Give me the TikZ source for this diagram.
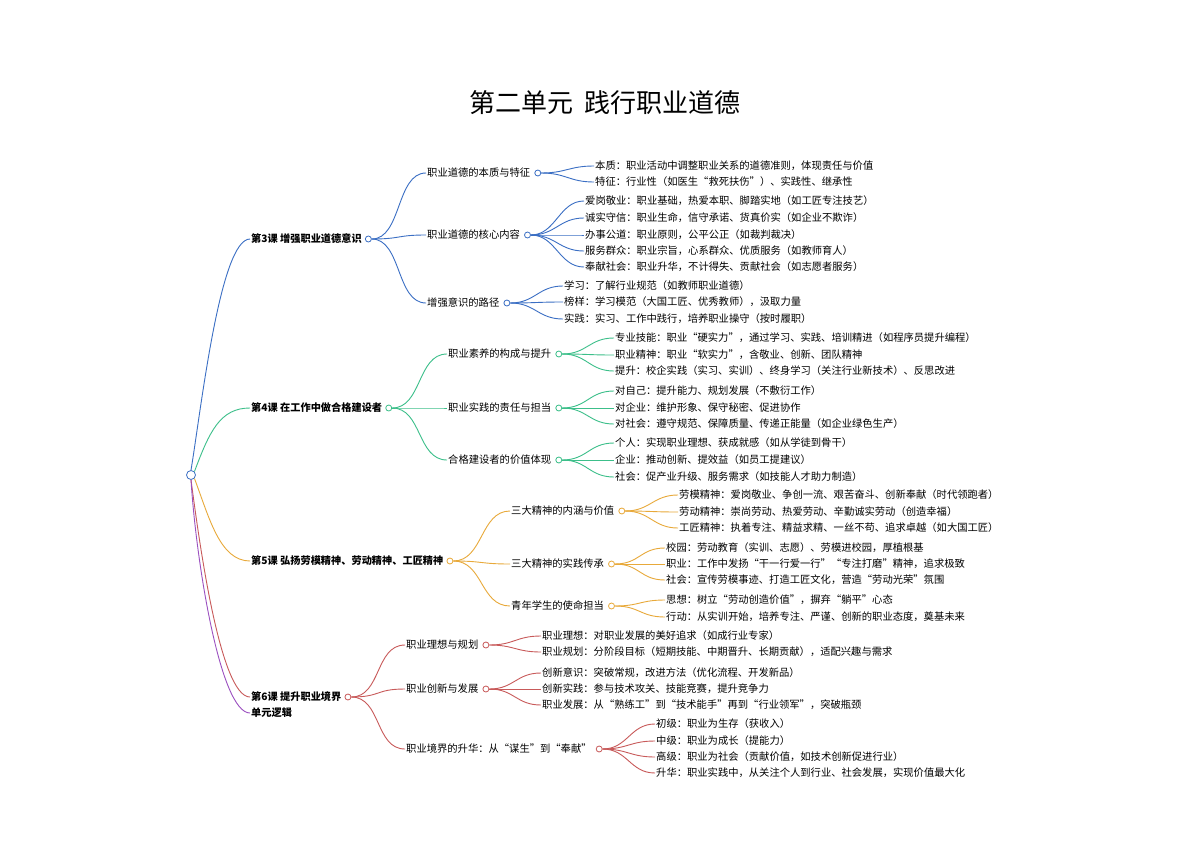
\documentclass[tikz,border=0pt]{standalone}
\usepackage{fontspec}
\setmainfont{Noto Sans CJK SC}
\usetikzlibrary{positioning}

\definecolor{cblue}{HTML}{3B6FC4}
\definecolor{cgreen}{HTML}{3CBF8A}
\definecolor{corange}{HTML}{E8A93A}
\definecolor{cred}{HTML}{C85A5A}
\definecolor{cpurple}{HTML}{9B4FC0}

\begin{document}
\begin{tikzpicture}[x=1pt,y=-1pt,font=\fontsize{10.3}{12}\selectfont]
  \tikzstyle{lesson} = [anchor=west, inner sep=1pt, font=\fontsize{10.2}{12}\selectfont\bfseries]
  \tikzstyle{topic} = [anchor=west, inner sep=1pt]
  \tikzstyle{leaf} = [anchor=west, inner sep=1pt]
  \tikzstyle{knob} = [circle, draw, fill=white, inner sep=0pt, minimum size=6pt, line width=0.8pt]
  \tikzstyle{link} = [line width=0.9pt]
  \useasboundingbox (0,0) rectangle (1200,849);
  \fill[white] (0,0) rectangle (1200,849);

  \node (title) at (605,103) {\fontsize{26}{30}\selectfont 第二单元\ \ 践行职业道德};

  \node (root) [knob, draw=cblue, minimum size=9pt] at (191,475) {};

  % lesson 3
  \node (l3) [lesson] at (250,239) {第3课 增强职业道德意识};
  \node (k3) [knob, draw=cblue, right=2pt of l3] {};
  \draw [link, cblue] (root.north) .. controls +(10,-60) and +(-30,0) .. (l3.west);
  \node (t31) [topic] at (426,173) {职业道德的本质与特征};
  \node (k31) [knob, draw=cblue, right=3pt of t31] {};
  \node (t32) [topic] at (426,235) {职业道德的核心内容};
  \node (k32) [knob, draw=cblue, right=3pt of t32] {};
  \node (t33) [topic] at (426,303) {增强意识的路径};
  \node (k33) [knob, draw=cblue, right=3pt of t33] {};
  \foreach \i in {1,2,3}
    \draw [link, cblue] (k3.east) .. controls +(30,0) and +(-30,0) .. (t3\i.west);
  \foreach \y/\t [count=\i] in {166/{本质：职业活动中调整职业关系的道德准则，体现责任与价值},
      182/{特征：行业性（如医生“救死扶伤”）、实践性、继承性}} {
    \node (k31-\i) [leaf] at (594,\y) {\t};
    \draw [link, cblue] (k31.east) .. controls +(25,0) and +(-25,0) .. (k31-\i.west);
  }
  \foreach \y/\t [count=\i] in {201/{爱岗敬业：职业基础，热爱本职、脚踏实地（如工匠专注技艺）},
      218/{诚实守信：职业生命，信守承诺、货真价实（如企业不欺诈）},
      235/{办事公道：职业原则，公平公正（如裁判裁决）},
      251/{服务群众：职业宗旨，心系群众、优质服务（如教师育人）},
      267/{奉献社会：职业升华，不计得失、贡献社会（如志愿者服务）}} {
    \node (k32-\i) [leaf] at (584,\y) {\t};
    \draw [link, cblue] (k32.east) .. controls +(25,0) and +(-25,0) .. (k32-\i.west);
  }
  \foreach \y/\t [count=\i] in {286/{学习：了解行业规范（如教师职业道德）},
      302/{榜样：学习模范（大国工匠、优秀教师），汲取力量},
      319/{实践：实习、工作中践行，培养职业操守（按时履职）}} {
    \node (k33-\i) [leaf] at (563,\y) {\t};
    \draw [link, cblue] (k33.east) .. controls +(25,0) and +(-25,0) .. (k33-\i.west);
  }

  % lesson 4
  \node (l4) [lesson] at (250,408) {第4课 在工作中做合格建设者};
  \node (k4) [knob, draw=cgreen, right=2pt of l4] {};
  \draw [link, cgreen] (root.north east) .. controls +(15,-40) and +(-30,0) .. (l4.west);
  \node (t41) [topic] at (447,354) {职业素养的构成与提升};
  \node (k41) [knob, draw=cgreen, right=3pt of t41] {};
  \node (t42) [topic] at (447,408) {职业实践的责任与担当};
  \node (k42) [knob, draw=cgreen, right=3pt of t42] {};
  \node (t43) [topic] at (447,460) {合格建设者的价值体现};
  \node (k43) [knob, draw=cgreen, right=3pt of t43] {};
  \foreach \i in {1,2,3}
    \draw [link, cgreen] (k4.east) .. controls +(30,0) and +(-30,0) .. (t4\i.west);
  \foreach \y/\t [count=\i] in {338/{专业技能：职业“硬实力”，通过学习、实践、培训精进（如程序员提升编程）},
      355/{职业精神：职业“软实力”，含敬业、创新、团队精神},
      371/{提升：校企实践（实习、实训）、终身学习（关注行业新技术）、反思改进}} {
    \node (k41-\i) [leaf] at (614,\y) {\t};
    \draw [link, cgreen] (k41.east) .. controls +(25,0) and +(-25,0) .. (k41-\i.west);
  }
  \foreach \y/\t [count=\i] in {391/{对自己：提升能力、规划发展（不敷衍工作）},
      408/{对企业：维护形象、保守秘密、促进协作},
      424/{对社会：遵守规范、保障质量、传递正能量（如企业绿色生产）}} {
    \node (k42-\i) [leaf] at (614,\y) {\t};
    \draw [link, cgreen] (k42.east) .. controls +(25,0) and +(-25,0) .. (k42-\i.west);
  }
  \foreach \y/\t [count=\i] in {443/{个人：实现职业理想、获成就感（如从学徒到骨干）},
      460/{企业：推动创新、提效益（如员工提建议）},
      477/{社会：促产业升级、服务需求（如技能人才助力制造）}} {
    \node (k43-\i) [leaf] at (614,\y) {\t};
    \draw [link, cgreen] (k43.east) .. controls +(25,0) and +(-25,0) .. (k43-\i.west);
  }

  % lesson 5
  \node (l5) [lesson] at (250,561) {第5课 弘扬劳模精神、劳动精神、工匠精神};
  \node (k5) [knob, draw=corange, right=2pt of l5] {};
  \draw [link, corange] (root.south east) .. controls +(15,40) and +(-30,0) .. (l5.west);
  \node (t51) [topic] at (510,511) {三大精神的内涵与价值};
  \node (k51) [knob, draw=corange, right=3pt of t51] {};
  \node (t52) [topic] at (510,564) {三大精神的实践传承};
  \node (k52) [knob, draw=corange, right=3pt of t52] {};
  \node (t53) [topic] at (510,606) {青年学生的使命担当};
  \node (k53) [knob, draw=corange, right=3pt of t53] {};
  \foreach \i in {1,2,3}
    \draw [link, corange] (k5.east) .. controls +(30,0) and +(-30,0) .. (t5\i.west);
  \foreach \y/\t [count=\i] in {495/{劳模精神：爱岗敬业、争创一流、艰苦奋斗、创新奉献（时代领跑者）},
      512/{劳动精神：崇尚劳动、热爱劳动、辛勤诚实劳动（创造幸福）},
      528/{工匠精神：执着专注、精益求精、一丝不苟、追求卓越（如大国工匠）}} {
    \node (k51-\i) [leaf] at (678,\y) {\t};
    \draw [link, corange] (k51.east) .. controls +(25,0) and +(-25,0) .. (k51-\i.west);
  }
  \foreach \y/\t [count=\i] in {548/{校园：劳动教育（实训、志愿）、劳模进校园，厚植根基},
      564/{职业：工作中发扬“干一行爱一行”“专注打磨”精神，追求极致},
      580/{社会：宣传劳模事迹、打造工匠文化，营造“劳动光荣”氛围}} {
    \node (k52-\i) [leaf] at (665,\y) {\t};
    \draw [link, corange] (k52.east) .. controls +(25,0) and +(-25,0) .. (k52-\i.west);
  }
  \foreach \y/\t [count=\i] in {600/{思想：树立“劳动创造价值”，摒弃“躺平”心态},
      617/{行动：从实训开始，培养专注、严谨、创新的职业态度，奠基未来}} {
    \node (k53-\i) [leaf] at (665,\y) {\t};
    \draw [link, corange] (k53.east) .. controls +(25,0) and +(-25,0) .. (k53-\i.west);
  }

  % lesson 6
  \node (l6) [lesson] at (250,697) {第6课 提升职业境界};
  \node (k6) [knob, draw=cred, right=2pt of l6] {};
  \draw [link, cred] (root.south) .. controls +(8,60) and +(-30,0) .. (l6.west);
  \node (t61) [topic] at (405,645) {职业理想与规划};
  \node (k61) [knob, draw=cred, right=3pt of t61] {};
  \node (t62) [topic] at (405,689) {职业创新与发展};
  \node (k62) [knob, draw=cred, right=3pt of t62] {};
  \node (t63) [topic] at (405,749) {职业境界的升华：从“谋生”到“奉献”};
  \node (k63) [knob, draw=cred, right=3pt of t63] {};
  \foreach \i in {1,2,3}
    \draw [link, cred] (k6.east) .. controls +(30,0) and +(-30,0) .. (t6\i.west);
  \foreach \y/\t [count=\i] in {636/{职业理想：对职业发展的美好追求（如成行业专家）},
      652/{职业规划：分阶段目标（短期技能、中期晋升、长期贡献），适配兴趣与需求}} {
    \node (k61-\i) [leaf] at (541,\y) {\t};
    \draw [link, cred] (k61.east) .. controls +(25,0) and +(-25,0) .. (k61-\i.west);
  }
  \foreach \y/\t [count=\i] in {673/{创新意识：突破常规，改进方法（优化流程、开发新品）},
      689/{创新实践：参与技术攻关、技能竞赛，提升竞争力},
      705/{职业发展：从“熟练工”到“技术能手”再到“行业领军”，突破瓶颈}} {
    \node (k62-\i) [leaf] at (541,\y) {\t};
    \draw [link, cred] (k62.east) .. controls +(25,0) and +(-25,0) .. (k62-\i.west);
  }
  \foreach \y/\t [count=\i] in {724/{初级：职业为生存（获收入）},
      741/{中级：职业为成长（提能力）},
      757/{高级：职业为社会（贡献价值，如技术创新促进行业）},
      773/{升华：职业实践中，从关注个人到行业、社会发展，实现价值最大化}} {
    \node (k63-\i) [leaf] at (655,\y) {\t};
    \draw [link, cred] (k63.east) .. controls +(25,0) and +(-25,0) .. (k63-\i.west);
  }

  % unit logic
  \node (logic) [lesson] at (250,713) {单元逻辑};
  \draw [link, cpurple] (root.south) .. controls +(5,80) and +(-30,0) .. (logic.west);
\end{tikzpicture}
\end{document}
